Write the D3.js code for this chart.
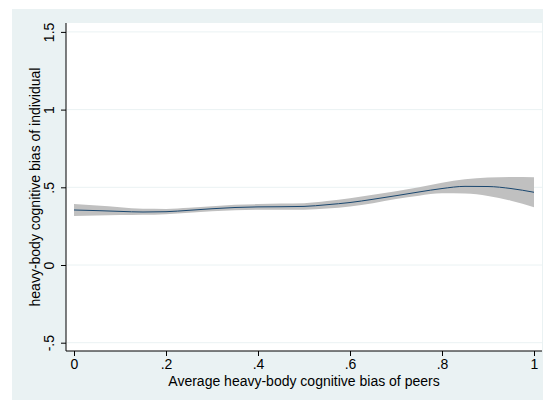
<!DOCTYPE html>
<html>
<head>
<meta charset="utf-8">
<script src="https://cdn.jsdelivr.net/npm/d3@7"></script>
<style>
  body { margin: 0; background: #fff; }
  text { font-family: "Liberation Sans", Arial, sans-serif; fill: #000; }
</style>
</head>
<body>
<svg id="chart"></svg>
<script>
// values
const peerBias = [0, .05, .1, .15, .2, .25, .3, .35, .4, .45, .5, .55, .6, .65, .7, .75, .8, .85, .9, .95, 1];
const fitted   = [.354, .350, .345, .341, .343, .352, .362, .370, .374, .375, .377, .388, .402, .423, .446, .470, .492, .506, .505, .492, .468];
const ciLower  = [.315, .318, .321, .323, .327, .336, .346, .353, .356, .355, .356, .364, .377, .398, .425, .446, .461, .460, .444, .413, .371];
const ciUpper  = [.392, .383, .372, .362, .361, .368, .378, .387, .392, .395, .398, .412, .430, .452, .474, .500, .530, .552, .563, .566, .564];
const xTicks = [0, .2, .4, .6, .8, 1];
const xTickLabels = ["0", ".2", ".4", ".6", ".8", "1"];
const yTicks = [-.5, 0, .5, 1, 1.5];
const yTickLabels = ["-.5", "0", ".5", "1", "1.5"];

const W = 544, H = 401;
const svg = d3.select("#chart").attr("width", W).attr("height", H);

// graph region
svg.append("rect").attr("x", 12).attr("y", 9).attr("width", 531).attr("height", 391).attr("fill", "#eaf2f3");

const plot = { left: 66, top: 23, right: 542, bottom: 351 };
svg.append("rect")
  .attr("x", plot.left).attr("y", plot.top)
  .attr("width", plot.right - plot.left).attr("height", plot.bottom - plot.top)
  .attr("fill", "#fff");

const x = d3.scaleLinear().domain([0, 1]).range([74, 534]);
const y = d3.scaleLinear().domain([0, .5]).range([265, 187.3]);

// gridlines
svg.append("g").selectAll("line")
  .data(yTicks)
  .join("line")
    .attr("x1", plot.left + 1).attr("x2", plot.right)
    .attr("y1", d => y(d)).attr("y2", d => y(d))
    .attr("stroke", "#eaf2f3").attr("stroke-width", 1);

const rows = peerBias.map((p, i) => ({ p, fit: fitted[i], lo: ciLower[i], hi: ciUpper[i] }));

// confidence band
svg.append("path")
  .datum(rows)
  .attr("fill", "#c0c0c0")
  .attr("d", d3.area().curve(d3.curveMonotoneX)
    .x(d => x(d.p)).y0(d => y(d.lo)).y1(d => y(d.hi)));

// fitted line
svg.append("path")
  .datum(rows)
  .attr("fill", "none")
  .attr("stroke", "#1a476f")
  .attr("stroke-width", 1)
  .attr("d", d3.line().curve(d3.curveMonotoneX).x(d => x(d.p)).y(d => y(d.fit)));

// axes
const xAxis = d3.axisBottom(x).tickValues(xTicks).tickFormat((d, i) => xTickLabels[i]).tickSize(5).tickPadding(3).tickSizeOuter(0);
const xg = svg.append("g").attr("transform", `translate(0,${plot.bottom})`).call(xAxis);
xg.select(".domain").remove();
xg.append("line").attr("x1", plot.left).attr("x2", plot.right).attr("stroke", "#000").attr("stroke-width", 1);
xg.selectAll(".tick line").attr("stroke", "#000");
xg.selectAll(".tick text").attr("font-size", 14);

const yAxis = d3.axisLeft(y).tickValues(yTicks).tickFormat((d, i) => yTickLabels[i]).tickSize(5).tickPadding(3).tickSizeOuter(0);
const yg = svg.append("g").attr("transform", `translate(${plot.left},0)`).call(yAxis);
yg.select(".domain").remove();
yg.append("line").attr("y1", plot.top).attr("y2", plot.bottom).attr("stroke", "#000").attr("stroke-width", 1);
yg.selectAll(".tick line").attr("stroke", "#000");
yg.selectAll(".tick text")
  .attr("font-size", 14)
  .attr("x", 0).attr("dy", 0)
  .attr("text-anchor", "middle")
  .attr("transform", "translate(-12,0) rotate(-90)");

// axis titles
svg.append("text")
  .attr("x", 304).attr("y", 386)
  .attr("text-anchor", "middle").attr("font-size", 14)
  .text("Average heavy-body cognitive bias of peers");

svg.append("text")
  .attr("transform", `translate(40,${(plot.top + plot.bottom) / 2 + 0}) rotate(-90)`)
  .attr("text-anchor", "middle").attr("font-size", 14)
  .text("heavy-body cognitive bias of individual");
</script>
</body>
</html>
